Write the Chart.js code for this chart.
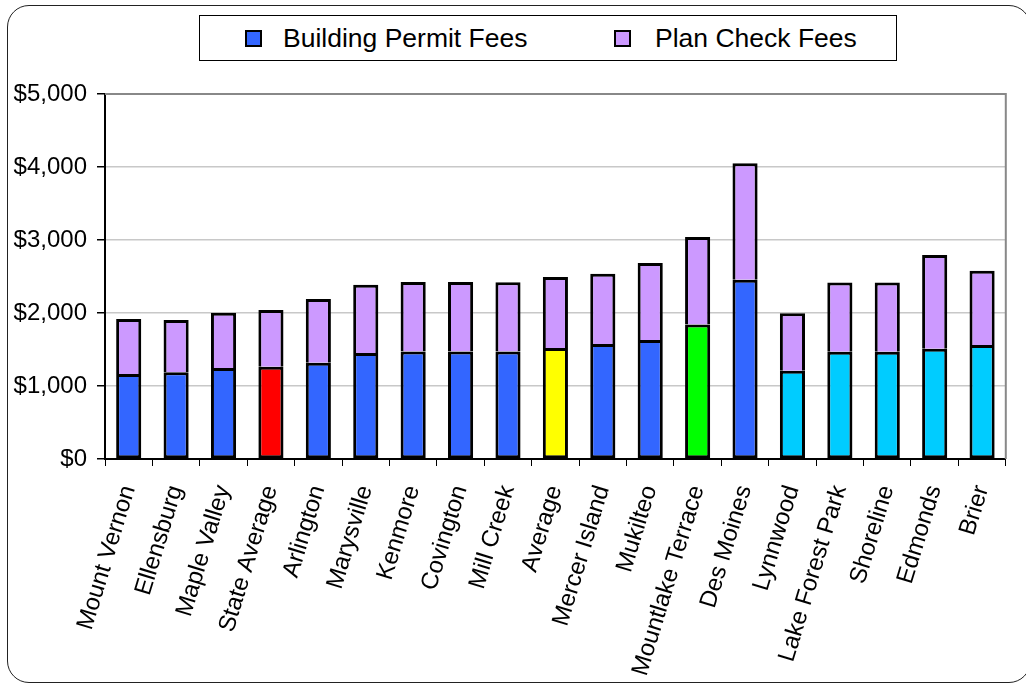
<!DOCTYPE html>
<html>
<head>
<meta charset="utf-8">
<script src="https://cdn.jsdelivr.net/npm/chart.js@4.4.0/dist/chart.umd.min.js"></script>
<style>
  html, body { margin: 0; padding: 0; background: #fff; }
  body { width: 1026px; height: 685px; position: relative; overflow: hidden; font-family: "Liberation Sans", Arial, sans-serif; }
  #frame { position: absolute; left: 7px; top: 5px; width: 1024px; height: 678px; border: 1.5px solid #222; border-radius: 22px; box-sizing: border-box; }
  #wrap { position: absolute; left: 0; top: 0; width: 1026px; height: 685px; }
  #legend { position: absolute; left: 199px; top: 15px; width: 698px; height: 46px; border: 1.5px solid #000; box-sizing: border-box; background: #fff; }
  .item { position: absolute; top: 1px; height: 43px; line-height: 43px; font-size: 26.5px; color: #000; white-space: nowrap; }
  .swatch { position: absolute; top: 14px; width: 13px; height: 13px; border: 2px solid #000; }
</style>
</head>
<body>
<div id="frame"></div>
<div id="wrap"><canvas id="chart" width="1026" height="685"></canvas></div>
<div id="legend">
  <div class="swatch" style="left:45px; background:#3366FF;"></div>
  <div class="item" style="left:83px;">Building Permit Fees</div>
  <div class="swatch" style="left:414px; background:#CC99FF;"></div>
  <div class="item" style="left:455px;">Plan Check Fees</div>
</div>
<script>
// 도시 목록 (x축)
const cities = ['Mount Vernon', 'Ellensburg', 'Maple Valley', 'State Average', 'Arlington', 'Marysville',
    'Kenmore', 'Covington', 'Mill Creek', 'Average', 'Mercer Island', 'Mukilteo',
    'Mountlake Terrace', 'Des Moines', 'Lynnwood', 'Lake Forest Park', 'Shoreline', 'Edmonds', 'Brier'];

// 건축허가 수수료
const permitFees = [1164, 1187, 1247, 1265, 1319, 1452, 1474, 1474, 1472, 1520, 1575, 1630,
    1844, 2456, 1210, 1470, 1470, 1511, 1562];

// 도면 검토 수수료
const planCheckFees = [754, 717, 757, 776, 873, 936, 951, 951, 948, 973, 963, 1055,
    1197, 1594, 785, 949, 949, 1284, 1018];

// 막대별 색상 (건축허가)
const permitColors = ['#3366FF', '#3366FF', '#3366FF', '#FF0000', '#3366FF', '#3366FF',
    '#3366FF', '#3366FF', '#3366FF', '#FFFF00', '#3366FF', '#3366FF',
    '#00FF00', '#3366FF', '#00CCFF', '#00CCFF', '#00CCFF', '#00CCFF', '#00CCFF'];

const yTicks = [0, 1000, 2000, 3000, 4000, 5000];

const FONT = '"Liberation Sans", Arial, sans-serif';

// 플롯 영역 테두리 (회색 상단/우측)
const plotBorder = {
    id: 'plotBorder',
    beforeDatasetsDraw(chart) {
        const { ctx, chartArea: a } = chart;
        ctx.save();
        ctx.strokeStyle = '#888888';
        ctx.lineWidth = 2;
        ctx.beginPath();
        ctx.moveTo(a.left, a.top);
        ctx.lineTo(a.right, a.top);
        ctx.lineTo(a.right, a.bottom);
        ctx.stroke();
        ctx.restore();
    }
};

new Chart(document.getElementById('chart'), {
    type: 'bar',
    data: {
        labels: cities,
        datasets: [
            {
                label: 'Building Permit Fees',
                data: permitFees,
                backgroundColor: permitColors,
                borderColor: '#000',
                borderWidth: 3,
                borderSkipped: false,
                barPercentage: 0.53,
                categoryPercentage: 1
            },
            {
                label: 'Plan Check Fees',
                data: planCheckFees,
                backgroundColor: '#CC99FF',
                borderColor: '#000',
                borderWidth: { top: 3, left: 3, right: 3, bottom: 0 }, // 이음선 두께 맞춤
                borderSkipped: false,
                barPercentage: 0.53,
                categoryPercentage: 1
            }
        ]
    },
    options: {
        responsive: false,
        animation: false,
        layout: { padding: { left: 0, top: 94, right: 14, bottom: 0 } },
        plugins: {
            legend: { display: false },
            tooltip: { enabled: false }
        },
        scales: {
            x: {
                stacked: true,
                afterFit(scale) { scale.height = 226; },
                grid: { drawOnChartArea: false, drawTicks: true, tickLength: 7, tickColor: '#000', offset: true },
                border: { color: '#000', width: 2 },
                ticks: {
                    color: '#000',
                    font: { family: FONT, size: 24 },
                    minRotation: 73,
                    maxRotation: 73,
                    autoSkip: false,
                    padding: 16
                }
            },
            y: {
                stacked: true,
                min: 0,
                max: 5000,
                afterFit(scale) { scale.width = 105; },
                afterBuildTicks(scale) { scale.ticks = yTicks.map(v => ({ value: v })); },
                grid: {
                    color: ctx => ctx.tick && ctx.tick.value === 5000 ? 'rgba(0,0,0,0)' : '#C8C8C8',
                    lineWidth: 1.5,
                    tickLength: 8,
                    tickColor: '#000'
                },
                border: { color: '#000', width: 2 },
                ticks: {
                    color: '#000',
                    font: { family: FONT, size: 24 },
                    padding: 10,
                    callback: v => '$' + Number(v).toLocaleString('en-US')
                }
            }
        }
    },
    plugins: [plotBorder]
});
</script>
</body>
</html>
